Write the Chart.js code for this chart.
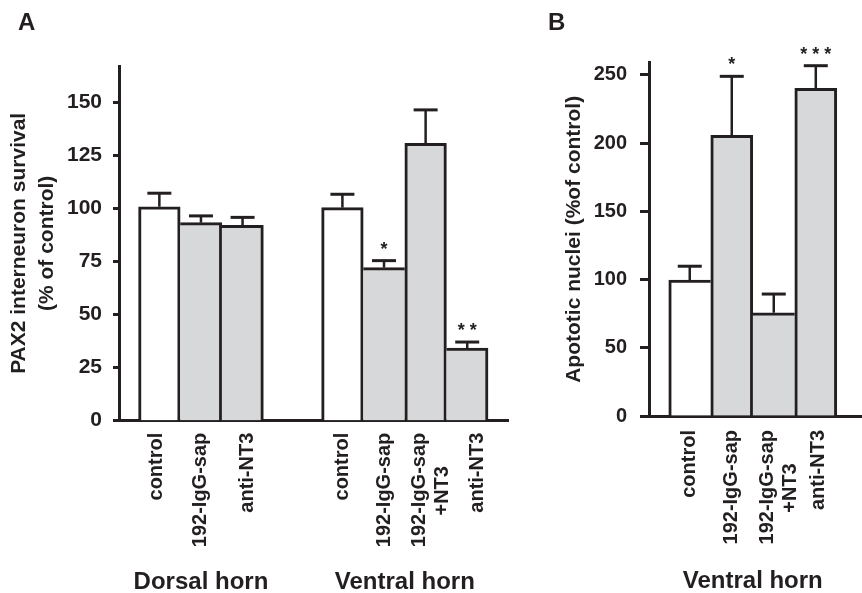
<!DOCTYPE html>
<html>
<head>
<meta charset="utf-8">
<script src="https://cdn.jsdelivr.net/npm/chart.js@4"></script>
<style>
  body { margin: 0; background: #fff; }
  #wrap { position: relative; width: 862px; height: 593px; }
  canvas { position: absolute; top: 0; }
</style>
</head>
<body>
<div id="wrap">
  <canvas id="chartA" width="520" height="593" style="left:0"></canvas>
  <canvas id="chartB" width="342" height="593" style="left:520px"></canvas>
</div>
<script>
// panel A - PAX2 interneuron survival
var dorsalLabels = ["control", "192-IgG-sap", "anti-NT3"];
var dorsalSurvival = [100.9, 93.4, 92.2];
var dorsalSEM = [6.4, 3.2, 3.7];
var dorsalStars = ["", "", ""];

var ventralLabels = ["control", "192-IgG-sap", ["192-IgG-sap", "+NT3      "], "anti-NT3"];
var ventralSurvival = [100.5, 72.2, 130.8, 34.3];
var ventralSEM = [6.3, 3.3, 15.8, 2.8];
var ventralStars = ["", "*", "", "* *"];

var survivalTicks = [0, 25, 50, 75, 100, 125, 150];

// panel B - apoptotic nuclei, ventral horn
var apoLabels = ["control", "192-IgG-sap", ["192-IgG-sap", "+NT3      "], "anti-NT3"];
var apoNuclei = [99.7, 205.8, 75.7, 240.2];
var apoSEM = [10.1, 43.2, 13.7, 16.6];
var apoStars = ["", "*", "", "* * *"];

var apoTicks = [0, 50, 100, 150, 200, 250];

var ink = "#231f20";
var grey = "#d7d8da";
var font = "'Liberation Sans', Arial, sans-serif";
var GAP = 1.4; // empty space between groups, in bar widths

// error bars + significance stars
var errorBars = {
  id: "errorBars",
  afterDatasetsDraw: function (chart) {
    var ctx = chart.ctx, y = chart.scales.y;
    chart.data.datasets.forEach(function (ds, d) {
      chart.getDatasetMeta(d).data.forEach(function (bar, i) {
        var top = y.getPixelForValue(ds.data[i].y + ds.errors[i]);
        ctx.save();
        ctx.strokeStyle = ink;
        ctx.lineWidth = 2.5;
        ctx.beginPath();
        ctx.moveTo(bar.x, bar.y);
        ctx.lineTo(bar.x, top);
        ctx.stroke();
        ctx.lineWidth = 3;
        ctx.beginPath();
        ctx.moveTo(bar.x - 12, top);
        ctx.lineTo(bar.x + 12, top);
        ctx.stroke();
        if (ds.stars[i]) {
          ctx.fillStyle = ink;
          ctx.font = "bold 18px " + font;
          ctx.textAlign = "center";
          ctx.textBaseline = "alphabetic";
          ctx.fillText(ds.stars[i], bar.x, top - 6);
        }
        ctx.restore();
      });
    });
  }
};

var panelLetter = {
  id: "panelLetter",
  afterDraw: function (chart, args, opts) {
    var ctx = chart.ctx;
    ctx.save();
    ctx.fillStyle = ink;
    ctx.font = "bold 24px " + font;
    ctx.textBaseline = "alphabetic";
    ctx.fillText(opts.text, opts.x, opts.y);
    ctx.restore();
  }
};

function makeChart(id, groups, cfg) {
  var labels = [], points = [], errors = [], stars = [], pos = [], centers = [], names = [];
  var p = 1;
  groups.forEach(function (g, gi) {
    if (gi > 0) p += GAP;
    var first = p;
    g.values.forEach(function (v, i) {
      labels.push(g.labels[i]);
      points.push({ x: p, y: v });
      errors.push(g.sem[i]);
      stars.push(g.stars[i]);
      pos.push(p);
      p += 1;
    });
    centers.push((first + p - 1) / 2);
    names.push(g.name);
  });

  var fills = labels.map(function (l) { return l === "control" ? "#ffffff" : grey; });

  // shared edges: the taller bar draws the line
  function sides(c) {
    var i = c.dataIndex;
    var v = points[i].y;
    var left = 3, right = 3;
    if (i > 0 && pos[i] - pos[i - 1] < 1.01 && points[i - 1].y >= v) left = 0;
    if (i < pos.length - 1 && pos[i + 1] - pos[i] < 1.01 && points[i + 1].y > v) right = 0;
    return { top: 3, left: left, right: right, bottom: 0 };
  }

  return new Chart(document.getElementById(id), {
    type: "bar",
    data: {
      datasets: [{
        data: points,
        errors: errors,
        stars: stars,
        backgroundColor: fills,
        borderColor: ink,
        borderWidth: sides,
        borderSkipped: "start",
        barPercentage: 1,
        categoryPercentage: 1
      }]
    },
    options: {
      responsive: false,
      animation: false,
      layout: { padding: cfg.padding },
      plugins: {
        legend: { display: false },
        tooltip: { enabled: false },
        panelLetter: cfg.letter
      },
      scales: {
        // data axis: the baseline only
        x: {
          type: "linear",
          min: cfg.xMin,
          max: cfg.xMax,
          offset: false,
          z: 1,
          grid: { display: false, offset: false },
          border: { color: ink, width: 3 },
          afterBuildTicks: function (s) { s.ticks = pos.map(function (v) { return { value: v }; }); },
          afterFit: function (s) { s.height = 0; },
          ticks: { display: false }
        },
        // bar names, rotated
        xNames: {
          type: "linear",
          position: "bottom",
          min: cfg.xMin,
          max: cfg.xMax,
          offset: false,
          grid: { display: false, offset: false },
          border: { display: false },
          afterBuildTicks: function (s) {
            s.ticks = pos.map(function (v, i) { return { value: v + cfg.nudge[i] }; });
          },
          afterFit: function (s) { s.height = 135; },
          ticks: {
            autoSkip: false,
            minRotation: 90,
            maxRotation: 90,
            padding: cfg.labelPad,
            color: ink,
            font: { family: font, size: 20, weight: "bold", lineHeight: 1.15 },
            callback: function (v, i) { return labels[i]; }
          }
        },
        // group names
        xGroups: {
          type: "linear",
          position: "bottom",
          min: cfg.xMin,
          max: cfg.xMax,
          offset: false,
          grid: { display: false, offset: false },
          border: { display: false },
          afterBuildTicks: function (s) { s.ticks = centers.map(function (v) { return { value: v }; }); },
          afterFit: function (s) { s.height = cfg.groupHeight; },
          ticks: {
            autoSkip: false,
            minRotation: 0,
            maxRotation: 0,
            padding: cfg.groupPad,
            color: ink,
            font: { family: font, size: 24, weight: "bold" },
            callback: function (v, i) { return names[i]; }
          }
        },
        y: {
          min: 0,
          max: cfg.yMax,
          afterBuildTicks: function (s) { s.ticks = cfg.yTicks.map(function (v) { return { value: v }; }); },
          afterFit: function (s) { s.width = cfg.axisLeft; },
          grid: { drawOnChartArea: false, drawTicks: true, tickLength: cfg.tickLen, tickWidth: 3, tickColor: ink },
          border: { color: ink, width: 3 },
          ticks: {
            padding: cfg.tickPad,
            color: ink,
            font: { family: font, size: cfg.tickSize, weight: "bold" }
          },
          title: {
            display: true,
            text: cfg.yTitle,
            color: ink,
            font: { family: font, size: 21, weight: "bold", lineHeight: 1.3 },
            padding: { top: cfg.titlePad, bottom: 0 }
          }
        }
      }
    },
    plugins: [errorBars, panelLetter]
  });
}

makeChart("chartA", [
  { name: "Dorsal horn", labels: dorsalLabels, values: dorsalSurvival, sem: dorsalSEM, stars: dorsalStars },
  { name: "Ventral horn", labels: ventralLabels, values: ventralSurvival, sem: ventralSEM, stars: ventralStars }
], {
  padding: { top: 66, left: 0, right: 12, bottom: 0 },
  letter: { text: "A", x: 18, y: 29.5 },
  xMin: 0.03, xMax: 9.38,
  nudge: [-0.08, 0, 0.12, 0, 0, -0.15, 0.24],
  yMax: 167.3, yTicks: survivalTicks,
  yTitle: ["PAX2 interneuron survival", "(% of control)"],
  axisLeft: 119, tickLen: 6, tickPad: 11, tickSize: 21, titlePad: 6,
  labelPad: 4, groupPad: 4, groupHeight: 37.3
});

makeChart("chartB", [
  { name: "Ventral horn", labels: apoLabels, values: apoNuclei, sem: apoSEM, stars: apoStars }
], {
  padding: { top: 62.7, left: 0, right: 0, bottom: 0 },
  letter: { text: "B", x: 28, y: 29.5 },
  xMin: 0.03, xMax: 5.1,
  nudge: [0, 0, -0.15, 0.06],
  yMax: 259, yTicks: apoTicks,
  yTitle: "Apototic nuclei (%of control)",
  axisLeft: 129, tickLen: 9, tickPad: 13, tickSize: 20, titlePad: 41,
  labelPad: 6, groupPad: 8, groupHeight: 42
});
</script>
</body>
</html>
